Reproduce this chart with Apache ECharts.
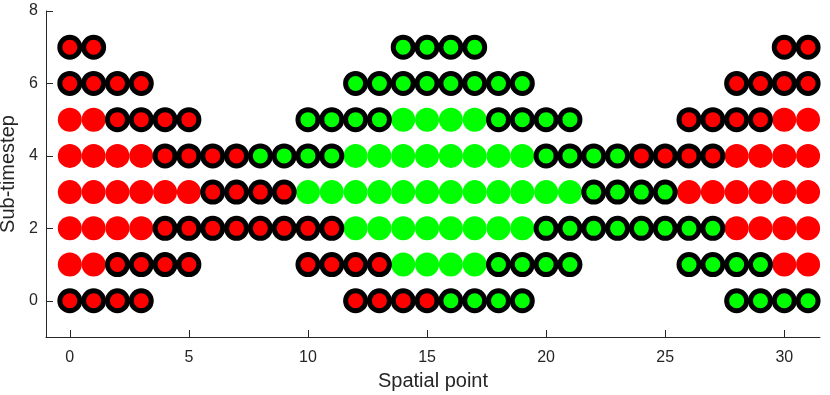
<!DOCTYPE html>
<html>
<head>
<meta charset="utf-8">
<script src="https://cdn.jsdelivr.net/npm/echarts@6/dist/echarts.min.js"></script>
<style>
  html, body { margin: 0; padding: 0; background: #fff; }
  #chart { width: 830px; height: 395px; }
</style>
</head>
<body>
<div id="chart"></div>
<script>
// x positions (spatial points) and y rows (sub-timesteps)
const spatialPoints = Array.from({length: 32}, (_, i) => i);
const subTimesteps = [0, 1, 2, 3, 4, 5, 6, 7];

// state of each point, one string per sub-timestep (index = spatial point)
// R = red filled, r = red ringed, G = green filled, g = green ringed, . = none
const stateRows = [
  'rrrr........rrrrgggg........gggg',
  'RRrrrr....rrrrGGGGgggg....ggggRR',
  'RRRRrrrrrrrrGGGGGGGGggggggggRRRR',
  'RRRRRRrrrrGGGGGGGGGGGGggggRRRRRR',
  'RRRRrrrrggggGGGGGGGGggggrrrrRRRR',
  'RRrrrr....ggggGGGGgggg....rrrrRR',
  'rrrr........gggggggg........rrrr',
  'rr............gggg............rr'
];

const xTicks = [0, 5, 10, 15, 20, 25, 30];
const yTicks = [0, 2, 4, 6, 8];

function pointsOf(code) {
  let out = [];
  subTimesteps.forEach(function (y) {
    const row = stateRows[y];
    spatialPoints.forEach(function (x) {
      if (row[x] === code) out.push([x, y]);
    });
  });
  return out;
}

function init() {
  let Chart = echarts.init(document.getElementById('chart'));
  const axisColor = '#262626';
  const font = 'Liberation Sans, Arial, Helvetica, sans-serif';

  let option = {
    animation: false,
    grid: {left: 46, right: 10, top: 11, bottom: 58, containLabel: false, outerBoundsMode: 'none'},
    xAxis: {
      type: 'value',
      min: -1,
      max: 31.5,
      name: 'Spatial point',
      nameLocation: 'middle',
      nameGap: 34,
      nameTextStyle: {color: axisColor, fontSize: 20, fontFamily: font},
      axisLine: {show: true, onZero: false, lineStyle: {color: axisColor, width: 1}},
      axisTick: {show: true, inside: true, length: 7, customValues: xTicks,
        lineStyle: {color: axisColor}},
      axisLabel: {customValues: xTicks, margin: 13, color: axisColor,
        fontSize: 16, fontFamily: font},
      splitLine: {show: false}
    },
    yAxis: {
      type: 'value',
      min: -1,
      max: 8,
      name: 'Sub-timestep',
      nameLocation: 'middle',
      nameGap: 26,
      nameTextStyle: {color: axisColor, fontSize: 20, fontFamily: font},
      axisLine: {show: true, onZero: false, lineStyle: {color: axisColor, width: 1}},
      axisTick: {show: true, inside: true, length: 7, customValues: yTicks,
        lineStyle: {color: axisColor}},
      axisLabel: {customValues: yTicks, margin: 8, color: axisColor,
        fontSize: 16, fontFamily: font},
      splitLine: {show: false}
    },
    series: [
      {
        name: 'red filled',
        type: 'scatter',
        symbol: 'circle',
        symbolSize: 24,
        itemStyle: {color: '#ff0000', opacity: 1},
        data: pointsOf('R')
      },
      {
        name: 'green filled',
        type: 'scatter',
        symbol: 'circle',
        symbolSize: 24,
        itemStyle: {color: '#00ff00', opacity: 1},
        data: pointsOf('G')
      },
      {
        name: 'red ringed',
        type: 'scatter',
        symbol: 'circle',
        symbolSize: 20,
        z: 3,
        itemStyle: {color: '#ff0000', borderColor: '#000000', borderWidth: 5, opacity: 1},
        data: pointsOf('r')
      },
      {
        name: 'green ringed',
        type: 'scatter',
        symbol: 'circle',
        symbolSize: 20,
        z: 3,
        itemStyle: {color: '#00ff00', borderColor: '#000000', borderWidth: 5, opacity: 1},
        data: pointsOf('g')
      }
    ]
  };
  Chart.setOption(option);
}

init();
</script>
</body>
</html>
